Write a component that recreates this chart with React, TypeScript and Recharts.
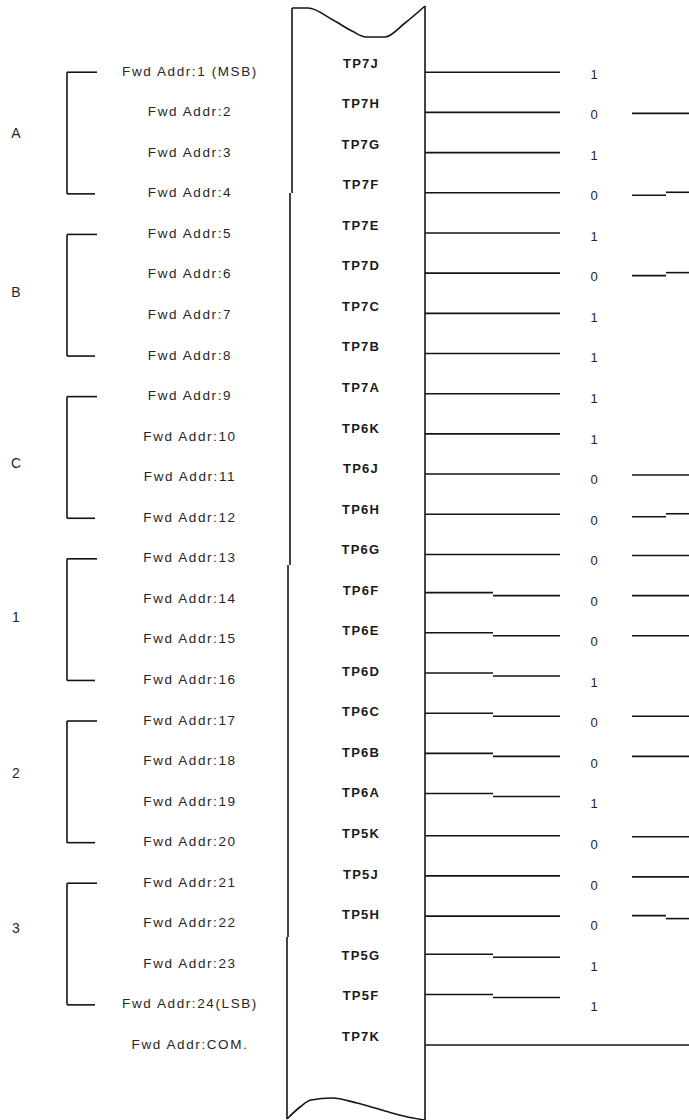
import React from 'react';
import { ComposedChart, XAxis, YAxis, Scatter, Line, ReferenceLine } from 'recharts';

// ---- data ----
const groupNames = ['A', 'B', 'C', '1', '2', '3'];
const groupLabelRows = [1.53, 5.45, 9.67, 13.46, 17.31, 21.13];
const addrLabels = [
  'Fwd Addr:1 (MSB)', 'Fwd Addr:2', 'Fwd Addr:3', 'Fwd Addr:4',
  'Fwd Addr:5', 'Fwd Addr:6', 'Fwd Addr:7', 'Fwd Addr:8',
  'Fwd Addr:9', 'Fwd Addr:10', 'Fwd Addr:11', 'Fwd Addr:12',
  'Fwd Addr:13', 'Fwd Addr:14', 'Fwd Addr:15', 'Fwd Addr:16',
  'Fwd Addr:17', 'Fwd Addr:18', 'Fwd Addr:19', 'Fwd Addr:20',
  'Fwd Addr:21', 'Fwd Addr:22', 'Fwd Addr:23', 'Fwd Addr:24(LSB)',
  'Fwd Addr:COM.',
];
const tpPins = [
  'TP7J', 'TP7H', 'TP7G', 'TP7F', 'TP7E', 'TP7D', 'TP7C', 'TP7B', 'TP7A',
  'TP6K', 'TP6J', 'TP6H', 'TP6G', 'TP6F', 'TP6E', 'TP6D', 'TP6C', 'TP6B', 'TP6A',
  'TP5K', 'TP5J', 'TP5H', 'TP5G', 'TP5F', 'TP7K',
];
const bitValues = [1, 0, 1, 0, 1, 0, 1, 1, 1, 1, 0, 0, 0, 0, 0, 1, 0, 0, 1, 0, 0, 0, 1, 1];
const leftStepRows = [13, 14, 15, 16, 17, 18, 22, 23];
const rightStepRows = [3, 5, 11, 21];
const rightStepDirs = [-1, -1, -1, 1];

// ---- layout ----
const W = 689;
const H = 1120;
const ROW0 = 71;
const ROW_H = 40.55;
const Y_MIN = -ROW0 / ROW_H;
const Y_MAX = (H - ROW0) / ROW_H;
const off = (p: number) => p / ROW_H; // pixel offset in row units
const py = (p: number) => (p - ROW0) / ROW_H; // absolute pixel in row units

const GROUP_X = 16;
const BRACKET_X = 67;
const BRACKET_END = 97;
const ADDR_X = 190;
const BOX_L = 292;
const BOX_R = 425;
const TP_X = 361;
const WIRE_END = 560;
const STEP_X = 493;
const BIT_X = 594;
const RW_START = 632;
const RW_STEP = 666;
const RW_END = 689;

const wireY = (i: number) => (i < 24 ? i * 0.991 + 0.03 : i + 0.02);

const groupData = groupNames.map((g, k) => ({ x: GROUP_X, y: groupLabelRows[k], label: g }));
const addrData = addrLabels.map((l, i) => ({ x: ADDR_X, y: i, label: l }));
const tpData = tpPins.map((l, i) => ({ x: TP_X, y: i - off(8), label: l }));
const bitData = bitValues.map((b, i) => ({ x: BIT_X, y: i + off(3), label: String(b) }));

const topWave = [
  { x: BOX_L, y: py(8) },
  { x: 308, y: py(8) },
  { x: 333, y: py(20) },
  { x: 352, y: py(31) },
  { x: 366, y: py(37) },
  { x: 385, y: py(37) },
  { x: 405, y: py(23) },
  { x: BOX_R, y: py(6) },
];
const bottomWave = [
  { x: 287, y: py(1119) },
  { x: 300, y: py(1107) },
  { x: 311, y: py(1100) },
  { x: 332, y: py(1098) },
  { x: 357, y: py(1103) },
  { x: 385, y: py(1111) },
  { x: 413, y: py(1118) },
  { x: BOX_R, y: py(1120) },
];

const FONT = '"Liberation Sans", Arial, sans-serif';
const STROKE = '#141414';
const SW = 1.6;

const makeText =
  (style: Record<string, any>) =>
  (p: any) =>
    (
      <text
        x={p.cx}
        y={p.cy}
        dy="0.35em"
        textAnchor="middle"
        fontFamily={FONT}
        fill="#262626"
        {...style}
      >
        {p.payload.label}
      </text>
    );

type Seg = [number, number, number, number];

function buildSegments(): Seg[] {
  const segs: Seg[] = [];
  // brackets
  groupNames.forEach((_, k) => {
    const a = 4 * k + 0.03;
    const b = 4 * k + 3 + 0.03;
    segs.push([BRACKET_X, a, BRACKET_X, b]);
    segs.push([BRACKET_X, a, BRACKET_END, a]);
    segs.push([BRACKET_X, b, BRACKET_END - 2, b]);
  });
  // box edges
  segs.push([BOX_L, py(8), BOX_L, py(193)]);
  segs.push([290, py(193), 290, py(565)]);
  segs.push([288, py(565), 288, py(937)]);
  segs.push([287, py(937), 287, py(1119)]);
  segs.push([BOX_R, py(6), BOX_R, py(1120)]);
  // wires from box
  tpPins.forEach((_, i) => {
    const y = wireY(i);
    if (i === tpPins.length - 1) {
      segs.push([BOX_R, y, RW_END, y]);
      return;
    }
    if (leftStepRows.includes(i)) {
      segs.push([BOX_R, y - off(2), STEP_X, y - off(2)]);
      segs.push([STEP_X, y + off(1), WIRE_END, y + off(1)]);
    } else {
      segs.push([BOX_R, y, WIRE_END, y]);
    }
  });
  // right wires for zero bits
  bitValues.forEach((b, i) => {
    if (b !== 0) return;
    const y = wireY(i) + off(1);
    const idx = rightStepRows.indexOf(i);
    if (idx >= 0) {
      const d = rightStepDirs[idx];
      segs.push([RW_START, y - d * off(1.5), RW_STEP, y - d * off(1.5)]);
      segs.push([RW_STEP, y + d * off(1.5), RW_END, y + d * off(1.5)]);
    } else {
      segs.push([RW_START, y, RW_END, y]);
    }
  });
  return segs;
}

const segments = buildSegments();

export default function App() {
  return (
    <div style={{ position: 'absolute', left: 0, top: 0, width: W, height: H, background: '#fff' }}>
      <ComposedChart width={W} height={H} margin={{ top: 0, right: 0, bottom: 0, left: 0 }}>
        <XAxis type="number" dataKey="x" domain={[0, W]} allowDataOverflow hide />
        <YAxis type="number" dataKey="y" domain={[Y_MIN, Y_MAX]} allowDataOverflow reversed hide />
        {segments.map((s, i) => (
          <ReferenceLine
            key={'s' + i}
            segment={[
              { x: s[0], y: s[1] },
              { x: s[2], y: s[3] },
            ]}
            stroke={STROKE}
            strokeWidth={SW}
            ifOverflow="visible"
          />
        ))}
        <Line
          data={topWave}
          dataKey="y"
          type="monotone"
          stroke={STROKE}
          strokeWidth={SW}
          dot={false}
          activeDot={false}
          isAnimationActive={false}
        />
        <Line
          data={bottomWave}
          dataKey="y"
          type="monotone"
          stroke={STROKE}
          strokeWidth={SW}
          dot={false}
          activeDot={false}
          isAnimationActive={false}
        />
        <Scatter data={groupData} isAnimationActive={false} shape={makeText({ fontSize: 14 })} />
        <Scatter
          data={addrData}
          isAnimationActive={false}
          shape={makeText({ fontSize: 13.5, letterSpacing: 1.6 })}
        />
        <Scatter
          data={tpData}
          isAnimationActive={false}
          shape={makeText({ fontSize: 13, fontWeight: 'bold', letterSpacing: 1.2, fill: '#1a1a1a' })}
        />
        <Scatter data={bitData} isAnimationActive={false} shape={makeText({ fontSize: 13 })} />
      </ComposedChart>
    </div>
  );
}
